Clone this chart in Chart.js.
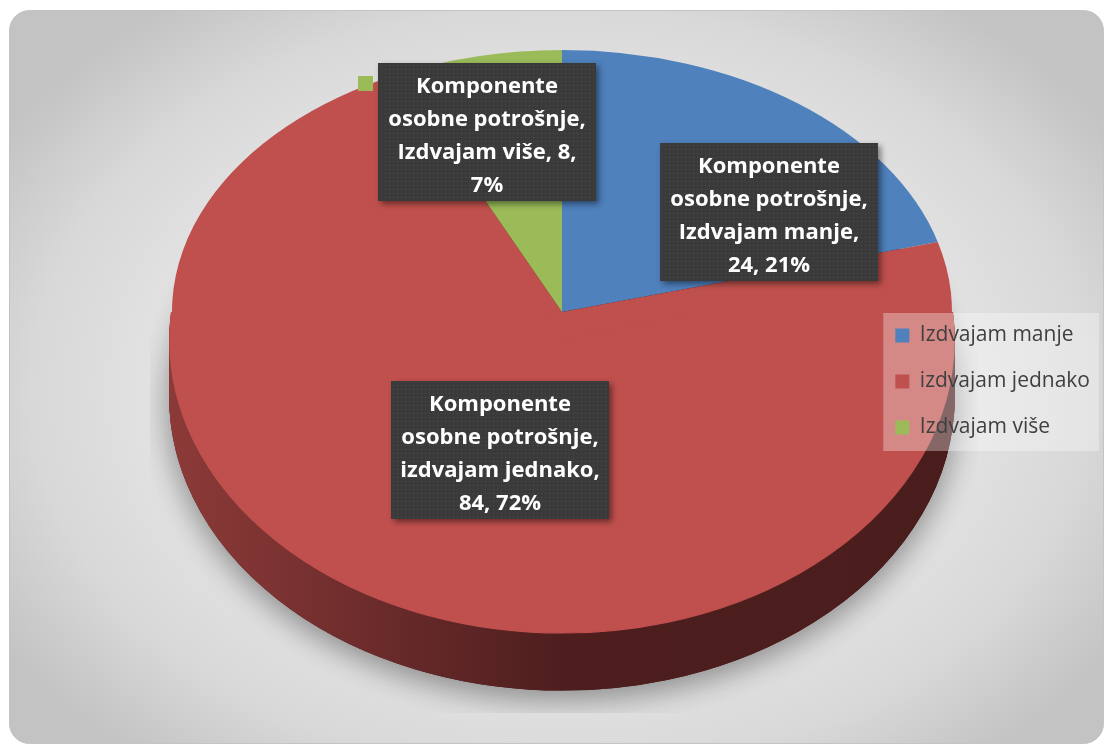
<!DOCTYPE html>
<html>
<head>
<meta charset="utf-8">
<script src="https://cdn.jsdelivr.net/npm/chart.js@4.4.1/dist/chart.umd.min.js"></script>
<style>
html,body{margin:0;padding:0;background:#ffffff;}
canvas{display:block;}
</style>
</head>
<body>
<canvas id="c" width="1105" height="745"></canvas>
<script>
// ---- data ----
const seriesName = "Komponente osobne potrošnje";
const categories = ["Izdvajam manje", "izdvajam jednako", "Izdvajam više"];
const values = [24, 84, 8];

// ---- styles / layout ----
const sliceColors = ["#4f81bd", "#c0504d", "#9bbb59"];
const FAR = { cx: 562, cy: 312, rx: 390, ry: 262 };          // far half of the top face (vertex here)
const NEAR = { cx: 562, cy: 340, rx: 392, ry: 293, depth: 57 }; // near half + extrusion
const SPLIT_Y = 312;
const PLOT = { x: 150, y: 12, w: 828, h: 701 };
const labelCenters = [ {x: 769, y: 212}, {x: 500, y: 450}, {x: 487, y: 132} ];
const LABEL = { w: 218, h: 138, lineH: 33, maxW: 205, textDy: 4, font: "bold 22px 'Open Sans'" };

const total = values.reduce((a, b) => a + b, 0);

function roundRectPath(ctx, x, y, w, h, r) {
  ctx.beginPath();
  ctx.moveTo(x + r, y);
  ctx.lineTo(x + w - r, y);
  ctx.arcTo(x + w, y, x + w, y + r, r);
  ctx.lineTo(x + w, y + h - r);
  ctx.arcTo(x + w, y + h, x + w - r, y + h, r);
  ctx.lineTo(x + r, y + h);
  ctx.arcTo(x, y + h, x, y + h - r, r);
  ctx.lineTo(x, y + r);
  ctx.arcTo(x, y, x + r, y, r);
  ctx.closePath();
}

function makeDotPattern(ctx) {
  const p = document.createElement('canvas');
  p.width = 4; p.height = 4;
  const pc = p.getContext('2d');
  pc.fillStyle = '#3a3a3a';
  pc.fillRect(0, 0, 4, 4);
  pc.fillStyle = '#4c4c4c';
  pc.fillRect(1, 1, 1, 1);
  return ctx.createPattern(p, 'repeat');
}

function wrapWords(ctx, text, maxW) {
  const words = text.split(' ');
  const lines = [];
  let cur = '';
  words.forEach(w => {
    const test = cur ? cur + ' ' + w : w;
    if (cur && ctx.measureText(test).width > maxW) {
      lines.push(cur);
      cur = w;
    } else {
      cur = test;
    }
  });
  if (cur) lines.push(cur);
  return lines;
}

function pieTransform(ctx, arc0, E, dy) {
  const R = arc0.outerRadius;
  ctx.translate(E.cx, E.cy + dy);
  ctx.scale(E.rx / R, E.ry / R);
  ctx.translate(-arc0.x, -arc0.y);
}

// draws a library arc element with another fill; a same-coloured hairline border hides seams
function drawArcWith(ctx, arc, fill, seam) {
  const keep = arc.options;
  arc.options = Object.assign({}, keep, {
    backgroundColor: fill,
    borderWidth: seam ? 1.5 : 0,
    borderColor: fill,
    borderJoinStyle: 'round'
  });
  arc.draw(ctx);
  arc.options = keep;
}

function clipRect(ctx, x, y, w, h) {
  ctx.beginPath();
  ctx.rect(x, y, w, h);
  ctx.clip();
}

const pie3d = {
  id: 'pie3d',
  afterInit(chart) {
    const lg = chart.legend;
    if (lg) {
      lg._layers = function () {
        return [{ z: 10, draw: () => {
          const hb = lg.legendHitBoxes;
          if (hb && hb.length) {
            const c = chart.ctx;
            const x = hb[0].left - 12;
            const y = hb[0].top - 12;
            const last = hb[hb.length - 1];
            const b = last.top + last.height + 13;
            c.save();
            c.fillStyle = 'rgba(255,255,255,0.33)';
            c.fillRect(x, y, 1099 - x, b - y);
            c.restore();
          }
          lg.draw();
        }}];
      };
    }
  },
  beforeDraw(chart) {
    const ctx = chart.ctx;
    const W = chart.width, H = chart.height;
    ctx.save();
    ctx.fillStyle = '#ffffff';
    ctx.fillRect(0, 0, W, H);
    roundRectPath(ctx, 9.5, 10.5, 1094, 733, 20);
    ctx.save();
    ctx.clip();
    ctx.translate(560, 390);
    ctx.scale(660, 480);
    const g = ctx.createRadialGradient(0, 0, 0, 0, 0, 1);
    g.addColorStop(0, '#f0f0f0');
    g.addColorStop(0.5, '#e8e8e8');
    g.addColorStop(0.8, '#d8d8d8');
    g.addColorStop(1, '#c3c3c3');
    ctx.fillStyle = g;
    ctx.fillRect(-2, -2, 4, 4);
    ctx.restore();
    roundRectPath(ctx, 9.5, 10.5, 1094, 733, 20);
    ctx.strokeStyle = '#c4c4c4';
    ctx.lineWidth = 1;
    ctx.stroke();
    ctx.restore();
  },
  beforeDatasetsDraw(chart) {
    const ctx = chart.ctx;
    const meta = chart.getDatasetMeta(0);
    const arcs = meta.data;
    const a0 = arcs[0];
    const R = a0.outerRadius;
    const W = chart.width, H = chart.height;
    // soft shadow under the pie, limited to the plot area
    ctx.save();
    clipRect(ctx, PLOT.x, PLOT.y, PLOT.w, PLOT.h);
    ctx.shadowColor = 'rgba(0,0,0,0.4)';
    ctx.shadowBlur = 30;
    ctx.shadowOffsetY = 8;
    pieTransform(ctx, a0, NEAR, NEAR.depth);
    arcs.forEach(arc => drawArcWith(ctx, arc, '#4a1d1d', true));
    ctx.restore();
    // extruded side (only the near half shows)
    for (let d = NEAR.depth; d >= 1; d--) {
      ctx.save();
      clipRect(ctx, 0, SPLIT_Y, W, H - SPLIT_Y);
      pieTransform(ctx, a0, NEAR, d);
      const grad = ctx.createLinearGradient(a0.x - R, 0, a0.x + R, 0);
      grad.addColorStop(0, '#8c3a38');
      grad.addColorStop(0.15, '#7a3231');
      grad.addColorStop(0.32, '#642828');
      grad.addColorStop(0.5, '#4e1e1e');
      grad.addColorStop(1, '#4a1d1d');
      arcs.forEach(arc => drawArcWith(ctx, arc, grad, true));
      ctx.restore();
    }
    // near half of the top face: wholly inside the "jednako" slice
    ctx.save();
    clipRect(ctx, 0, SPLIT_Y, W, H - SPLIT_Y);
    pieTransform(ctx, a0, NEAR, 0);
    arcs.forEach(arc => drawArcWith(ctx, arc, sliceColors[1], true));
    ctx.restore();
    // far half: drawn by the chart itself with this transform
    ctx.save();
    clipRect(ctx, 0, 0, W, SPLIT_Y);
    pieTransform(ctx, a0, FAR, 0);
  },
  afterDatasetsDraw(chart) {
    chart.ctx.restore();
  },
  afterDraw(chart) {
    const ctx = chart.ctx;
    const pattern = makeDotPattern(ctx);
    ctx.save();
    ctx.font = LABEL.font;
    values.forEach((v, i) => {
      const pct = Math.round(v / total * 100);
      const text = seriesName + ', ' + categories[i] + ', ' + v + ', ' + pct + '%';
      const lines = wrapWords(ctx, text, LABEL.maxW);
      const c = labelCenters[i];
      const bx = c.x - LABEL.w / 2, by = c.y - LABEL.h / 2;
      const firstY = c.y - (lines.length - 1) * LABEL.lineH / 2 + LABEL.textDy;
      // legend key of the label
      ctx.fillStyle = sliceColors[i];
      ctx.fillRect(bx - 20, by + 13, 15, 15);
      // box
      ctx.save();
      ctx.shadowColor = 'rgba(0,0,0,0.45)';
      ctx.shadowBlur = 6;
      ctx.shadowOffsetX = 3;
      ctx.shadowOffsetY = 3;
      ctx.fillStyle = '#3a3a3a';
      ctx.fillRect(bx, by, LABEL.w, LABEL.h);
      ctx.restore();
      ctx.fillStyle = pattern;
      ctx.fillRect(bx, by, LABEL.w, LABEL.h);
      ctx.fillStyle = '#ffffff';
      ctx.textAlign = 'center';
      ctx.textBaseline = 'middle';
      lines.forEach((ln, k) => ctx.fillText(ln, c.x, firstY + k * LABEL.lineH));
    });
    ctx.restore();
  }
};

new Chart(document.getElementById('c'), {
  type: 'pie',
  data: {
    labels: categories,
    datasets: [{
      label: seriesName,
      data: values,
      backgroundColor: sliceColors,
      borderWidth: 0,
      clip: false
    }]
  },
  options: {
    responsive: false,
    animation: false,
    events: [],
    layout: { padding: { top: 18, right: 5, bottom: 0, left: 0 } },
    plugins: {
      legend: {
        position: 'right',
        labels: {
          boxWidth: 14,
          boxHeight: 14,
          padding: 25,
          color: '#404040',
          font: { family: "'Open Sans'", size: 21 }
        }
      },
      tooltip: { enabled: false }
    }
  },
  plugins: [pie3d]
});
</script>
</body>
</html>
